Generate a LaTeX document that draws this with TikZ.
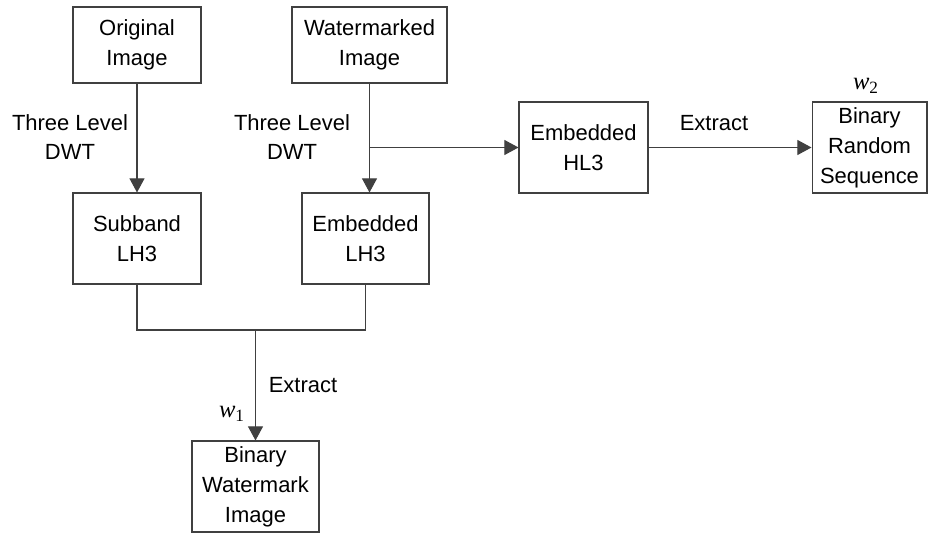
\documentclass[tikz,border=0pt]{standalone}
\usepackage{fontspec}
\setmainfont{Liberation Sans}
\newfontfamily\serifw{Liberation Serif}
\usetikzlibrary{arrows.meta, positioning}
\definecolor{linegray}{HTML}{404040}

\begin{document}
\begin{tikzpicture}[
    x=0.02cm, y=-0.02cm,
    every node/.style={font=\fontsize{12.5pt}{17pt}\selectfont, align=center},
    block/.style={rectangle, draw=linegray, line width=0.6pt, inner sep=0pt, minimum height=1.82cm},
    arrow/.style={line width=0.6pt, draw=linegray, -{Triangle[length=8pt, width=8.5pt]}},
    line/.style={line width=0.6pt, draw=linegray}
]
\useasboundingbox (0,0) rectangle (935,533);

\node[block, minimum width=2.56cm, minimum height=1.52cm] (orig) at (137,45) {Original\\Image};
\node[block, minimum width=3.1cm, minimum height=1.52cm] (wmimg) at (369.5,45) {Watermarked\\Image};
\node[block, minimum width=2.56cm] (sub) at (137,238.5) {Subband\\LH3};
\node[block, minimum width=2.54cm] (elh) at (365.5,238.5) {Embedded\\LH3};
\node[block, minimum width=2.58cm] (ehl) at (583.5,147.5) {Embedded\\HL3};
\node[block, minimum width=2.3cm] (brs) at (869.5,147.5) {Binary\\Random\\Sequence};
\node[block, minimum width=2.54cm] (bwm) at (255.5,486.5) {Binary\\Watermark\\Image};

% labels
\node (dwta) at (70,137) {Three Level\\DWT};
\node (dwtb) at (292,137) {Three Level\\DWT};
\node (exta) at (714,123) {Extract};
\node (extb) at (303,385) {Extract};
\node[font=\fontsize{14pt}{17pt}\selectfont] (wtwo) at (866,86) {\serifw\itshape w\textsubscript{\upshape 2}};
\node[font=\fontsize{14pt}{17pt}\selectfont] (wone) at (232,414) {\serifw\itshape w\textsubscript{\upshape 1}};

% connectors
\coordinate (br) at (wmimg.south |- ehl.west);
\coordinate (jn) at (bwm.north |- 0,330);
\draw[arrow] (orig) -- (sub);
\draw[arrow] (wmimg.south) -- (wmimg.south |- elh.north);
\draw[arrow] (br) -- (ehl);
\draw[arrow] (ehl) -- (brs);
\draw[line] (sub.south) |- (jn) -| (elh.south);
\draw[arrow] (jn) -- (bwm);

\end{tikzpicture}
\end{document}
